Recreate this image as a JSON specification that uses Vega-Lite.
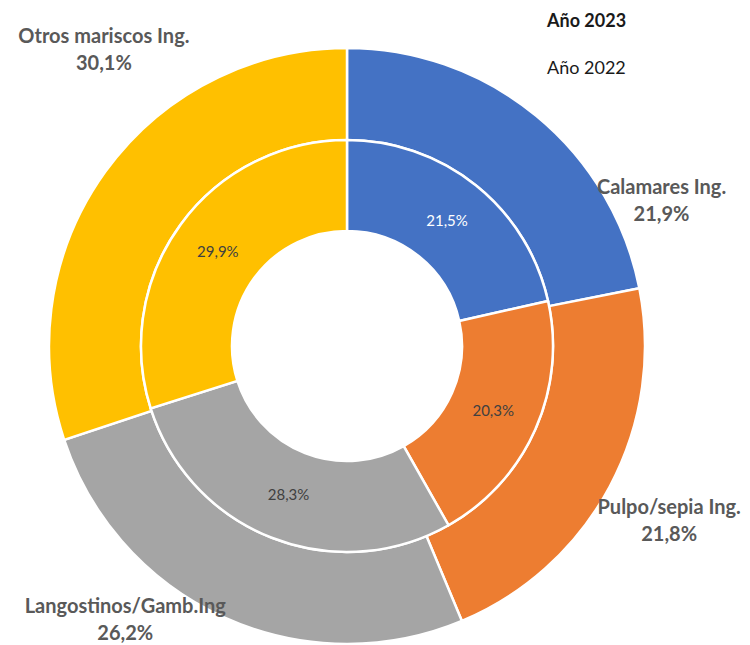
{
  "$schema": "https://vega.github.io/schema/vega-lite/v6.json",
  "width": 694,
  "height": 598,
  "autosize": {"type": "none"},
  "padding": {"top": 47, "left": 0, "right": 56, "bottom": 0},
  "background": "white",
  "config": {"view": {"stroke": null}, "font": "Lato"},
  "title": {
    "text": "Año 2023",
    "subtitle": "Año 2022",
    "anchor": "start",
    "frame": "group",
    "align": "left",
    "dx": 547,
    "offset": -112,
    "font": "Lato",
    "fontSize": 18,
    "fontWeight": "bold",
    "color": "#1a1a1a",
    "subtitleFont": "Lato",
    "subtitleFontSize": 18,
    "subtitleFontWeight": "normal",
    "subtitleColor": "#1a1a1a",
    "subtitlePadding": 29
  },
  "data": {
    "values": [
      {"year": 2023, "cat": "Calamares Ing.", "value": 21.9},
      {"year": 2023, "cat": "Pulpo/sepia Ing.", "value": 21.8},
      {"year": 2023, "cat": "Langostinos/Gamb.Ing", "value": 26.2},
      {"year": 2023, "cat": "Otros mariscos Ing.", "value": 30.1},
      {"year": 2022, "cat": "Calamares Ing.", "value": 21.5},
      {"year": 2022, "cat": "Pulpo/sepia Ing.", "value": 20.3},
      {"year": 2022, "cat": "Langostinos/Gamb.Ing", "value": 28.3},
      {"year": 2022, "cat": "Otros mariscos Ing.", "value": 29.9}
    ]
  },
  "transform": [
    {"calculate": "indexof(['Calamares Ing.','Pulpo/sepia Ing.','Langostinos/Gamb.Ing','Otros mariscos Ing.'], datum.cat)", "as": "k"},
    {"calculate": "replace(format(datum.value, '.1f'), '.', ',') + '%'", "as": "lab"},
    {"calculate": "datum.cat + '\\n' + datum.lab", "as": "full"}
  ],
  "encoding": {
    "theta": {"field": "value", "type": "quantitative", "stack": true, "scale": {"domain": [0, 100]}},
    "order": {"field": "k", "type": "quantitative"}
  },
  "layer": [
    {
      "transform": [{"filter": "datum.year == 2023"}],
      "mark": {"type": "arc", "radius": 298, "radius2": 206, "stroke": "white", "strokeWidth": 2.5},
      "encoding": {
        "color": {"field": "cat", "type": "nominal", "legend": null,
          "scale": {"domain": ["Calamares Ing.", "Pulpo/sepia Ing.", "Langostinos/Gamb.Ing", "Otros mariscos Ing."],
                    "range": ["#4472C4", "#ED7D31", "#A5A5A5", "#FFC000"]}}
      }
    },
    {
      "transform": [{"filter": "datum.year == 2022"}],
      "mark": {"type": "arc", "radius": 206, "radius2": 115, "stroke": "white", "strokeWidth": 2.5},
      "encoding": {
        "color": {"field": "cat", "type": "nominal", "legend": null}
      }
    },
    {
      "transform": [{"filter": "datum.year == 2022"}],
      "mark": {"type": "text", "radius": 160, "fontSize": 15, "font": "Lato", "align": "center", "baseline": "middle"},
      "encoding": {
        "text": {"field": "lab", "type": "nominal"},
        "color": {"condition": {"test": "datum.cat == 'Calamares Ing.'", "value": "white"}, "value": "#404040"}
      }
    },
    {
      "transform": [{"filter": "datum.year == 2023"}],
      "mark": {"type": "text", "radius": 330, "dx": 105, "dy": 96.5, "fontSize": 20, "fontWeight": "bold", "font": "Lato", "align": "center", "baseline": "middle", "lineBreak": "\n", "lineHeight": 27, "color": "#595959"},
      "encoding": {
        "text": {"condition": {"test": "datum.cat == 'Calamares Ing.'", "field": "full"}, "value": ""}
      }
    },
    {
      "transform": [{"filter": "datum.year == 2023"}],
      "mark": {"type": "text", "radius": 330, "dx": 31, "dy": 6.5, "fontSize": 20, "fontWeight": "bold", "font": "Lato", "align": "center", "baseline": "middle", "lineBreak": "\n", "lineHeight": 27, "color": "#595959"},
      "encoding": {
        "text": {"condition": {"test": "datum.cat == 'Pulpo/sepia Ing.'", "field": "full"}, "value": ""}
      }
    },
    {
      "transform": [{"filter": "datum.year == 2023"}],
      "mark": {"type": "text", "radius": 330, "dx": -85, "dy": -39, "fontSize": 20, "fontWeight": "bold", "font": "Lato", "align": "center", "baseline": "middle", "lineBreak": "\n", "lineHeight": 27, "color": "#595959"},
      "encoding": {
        "text": {"condition": {"test": "datum.cat == 'Langostinos/Gamb.Ing'", "field": "full"}, "value": ""}
      }
    },
    {
      "transform": [{"filter": "datum.year == 2023"}],
      "mark": {"type": "text", "radius": 330, "dx": 24.5, "dy": -115.5, "fontSize": 20, "fontWeight": "bold", "font": "Lato", "align": "center", "baseline": "middle", "lineBreak": "\n", "lineHeight": 27, "color": "#595959"},
      "encoding": {
        "text": {"condition": {"test": "datum.cat == 'Otros mariscos Ing.'", "field": "full"}, "value": ""}
      }
    }
  ]
}
